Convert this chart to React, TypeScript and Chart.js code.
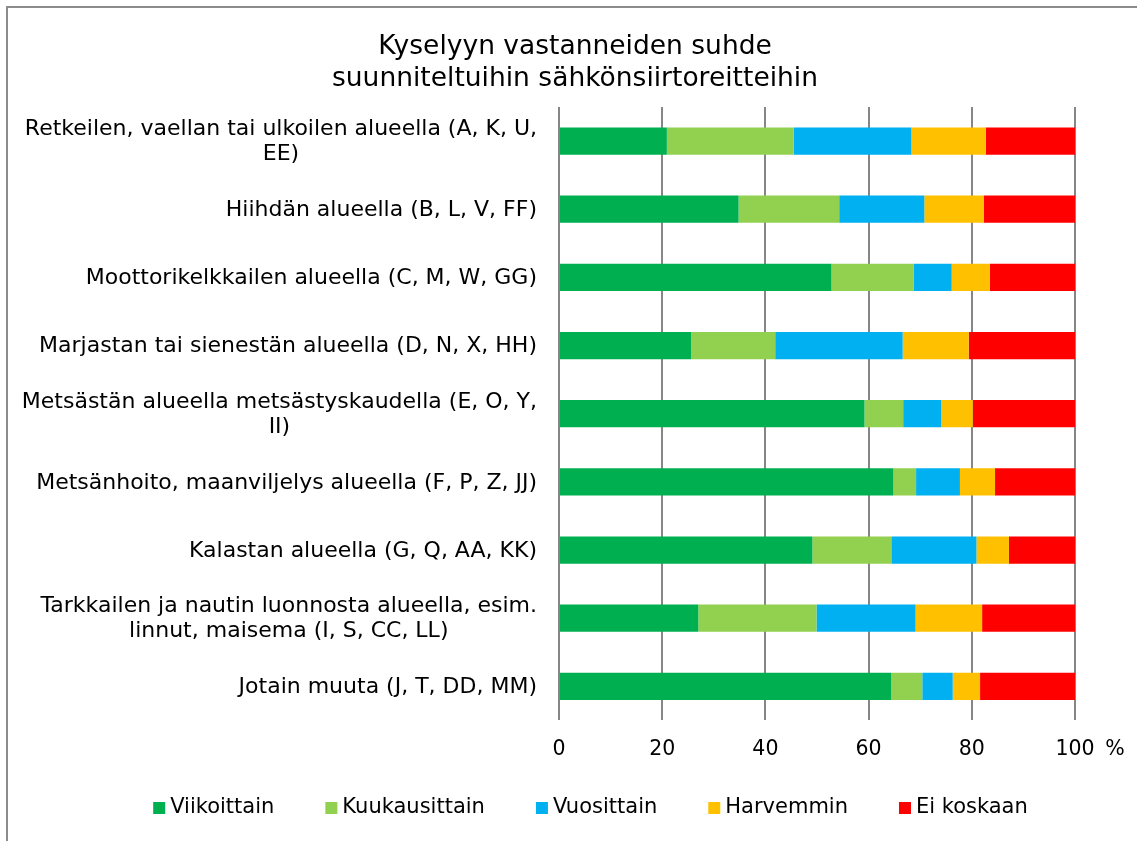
import React, { useEffect, useRef } from "react";
import { Chart, registerables } from "chart.js";

Chart.register(...registerables);

const titleLines = ["Kyselyyn vastanneiden suhde", "suunniteltuihin sähkönsiirtoreitteihin"];

const categories: (string | string[])[] = [
  ["Retkeilen, vaellan tai ulkoilen alueella (A, K, U,", "EE)"],
  "Hiihdän alueella (B, L, V, FF)",
  "Moottorikelkkailen alueella (C, M, W, GG)",
  "Marjastan tai sienestän alueella (D, N, X, HH)",
  ["Metsästän alueella metsästyskaudella (E, O, Y,", "II)"],
  "Metsänhoito, maanviljelys alueella (F, P, Z, JJ)",
  "Kalastan alueella (G, Q, AA, KK)",
  ["Tarkkailen ja nautin luonnosta alueella, esim.", "linnut, maisema (I, S, CC, LL)"],
  "Jotain muuta (J, T, DD, MM)",
];

const viikoittain = [20.9, 34.8, 52.8, 25.6, 59.2, 64.8, 49.1, 27.0, 64.4];
const kuukausittain = [24.6, 19.5, 15.9, 16.3, 7.5, 4.4, 15.3, 22.9, 6.0];
const vuosittain = [22.8, 16.5, 7.4, 24.7, 7.4, 8.5, 16.5, 19.2, 5.9];
const harvemmin = [14.4, 11.5, 7.4, 12.8, 6.1, 6.8, 6.3, 12.9, 5.3];
const eiKoskaan = [17.3, 17.7, 16.5, 20.6, 19.8, 15.5, 12.8, 18.0, 18.4];

const seriesNames = ["Viikoittain", "Kuukausittain", "Vuosittain", "Harvemmin", "Ei koskaan"];
const seriesColors = ["#00B050", "#92D050", "#00B0F0", "#FFC000", "#FF0000"];
const xTicks = [0, 20, 40, 60, 80, 100];
const unitLabel = "%";

const FONT = "'DejaVu Sans', Verdana, sans-serif";

export default function App() {
  const ref = useRef<HTMLCanvasElement | null>(null);

  useEffect(() => {
    if (!ref.current) return;
    const seriesData = [viikoittain, kuukausittain, vuosittain, harvemmin, eiKoskaan];

    const customText = {
      id: "customText",
      afterDraw(chart: any) {
        const ctx = chart.ctx as CanvasRenderingContext2D;
        const area = chart.chartArea;
        const yScale = chart.scales.y;
        ctx.save();
        ctx.fillStyle = "#000";
        // title
        ctx.font = `26.5px ${FONT}`;
        ctx.textAlign = "center";
        ctx.textBaseline = "alphabetic";
        titleLines.forEach((t, i) => ctx.fillText(t, 567, 46 + i * 32));
        // category labels
        ctx.font = `22px ${FONT}`;
        ctx.textBaseline = "middle";
        categories.forEach((lab, i) => {
          const lines = Array.isArray(lab) ? lab : [lab];
          const y = yScale.getPixelForValue(i) + 1;
          const widths = lines.map((l) => ctx.measureText(l).width);
          const blockW = Math.max(...widths);
          const right = area.left - 22;
          lines.forEach((l, j) => {
            const ly = y + (j - (lines.length - 1) / 2) * 25;
            ctx.textAlign = "center";
            ctx.fillText(l, right - blockW / 2, ly);
          });
        });
        // unit
        ctx.font = `20.5px ${FONT}`;
        ctx.textAlign = "center";
        ctx.fillText(unitLabel, area.right + 40, area.bottom + 29);
        // legend
        ctx.font = `21px ${FONT}`;
        const box = 12;
        const gapBoxText = 5;
        const gapItems = 51;
        const tw = seriesNames.map((n) => ctx.measureText(n).width);
        const total =
          tw.reduce((a, b) => a + b, 0) + seriesNames.length * (box + gapBoxText) + (seriesNames.length - 1) * gapItems;
        let x = 582.5 - total / 2;
        const ly = 800;
        ctx.textAlign = "left";
        seriesNames.forEach((n, i) => {
          ctx.fillStyle = seriesColors[i];
          ctx.fillRect(x, ly - box / 2, box, box);
          ctx.fillStyle = "#000";
          ctx.fillText(n, x + box + gapBoxText, ly);
          x += box + gapBoxText + tw[i] + gapItems;
        });
        ctx.restore();
      },
    };

    const chart = new Chart(ref.current, {
      type: "bar",
      data: {
        labels: categories as any,
        datasets: seriesNames.map((name, i) => ({
          label: name,
          data: seriesData[i],
          backgroundColor: seriesColors[i],
          borderWidth: 0,
          barPercentage: 0.4,
          categoryPercentage: 1,
        })),
      },
      options: {
        indexAxis: "y",
        animation: false,
        responsive: true,
        maintainAspectRatio: false,
        layout: { padding: { top: 99, left: 0, right: 62, bottom: 62 } },
        plugins: {
          title: { display: false },
          tooltip: { enabled: false },
          legend: { display: false },
        },
        scales: {
          x: {
            stacked: true,
            min: 0,
            max: 100,
            afterBuildTicks: (scale: any) => {
              scale.ticks = xTicks.map((v) => ({ value: v }));
            },
            grid: { color: "#868686", lineWidth: 2, drawTicks: false },
            border: { display: false },
            ticks: {
              padding: 17,
              color: "#000",
              font: { family: FONT, size: 20.5 },
              maxRotation: 0,
            },
          },
          y: {
            stacked: true,
            grid: { display: false },
            border: { display: false },
            ticks: { display: false },
            afterFit: (scale: any) => {
              scale.width = 551;
            },
          },
        },
      },
      plugins: [customText],
    });
    return () => chart.destroy();
  }, []);

  return (
    <div
      style={{
        position: "fixed",
        left: 6,
        top: 6,
        width: 1131,
        height: 835,
        borderLeft: "2px solid #8c8c8c",
        borderTop: "2px solid #8c8c8c",
        boxSizing: "border-box",
        background: "#fff",
      }}
    >
      <canvas ref={ref} />
    </div>
  );
}
